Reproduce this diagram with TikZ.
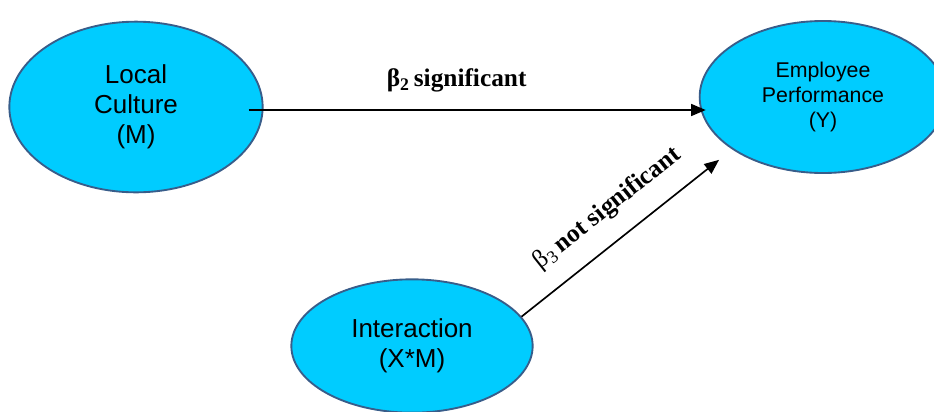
\documentclass[tikz,border=0pt]{standalone}
\usepackage{fontspec}
\setmainfont{Liberation Serif}
\setsansfont{Liberation Sans}
\usetikzlibrary{arrows.meta,shapes.geometric,positioning}
\definecolor{varFill}{HTML}{00CCFF}
\definecolor{varLine}{HTML}{385D8A}
\tikzset{construct/.style={ellipse, draw=varLine, fill=varFill, line width=1.4pt, align=center, inner sep=0pt}}
\tikzset{beta label/.style={font=\bfseries\fontsize{19}{22}\selectfont, inner sep=0pt}}

\begin{document}
\begin{tikzpicture}[->,>={Triangle[length=11pt,width=9pt]},x=0.75pt,y=-0.75pt,line width=1.25pt]
\useasboundingbox (0,0) rectangle (934,411);
\node[construct, minimum width=190pt, minimum height=128pt, font=\sffamily\fontsize{19.5}{22.5}\selectfont] at (136,107) (lc) {Local\\Culture\\(M)};
\node[construct, minimum width=185pt, minimum height=114pt, font=\sffamily\fontsize{16}{18.5}\selectfont] at (823,97) (ep) {Employee\\Performance\\(Y)};
\node[construct, minimum width=181pt, minimum height=100pt, font=\sffamily\fontsize{19.5}{22.5}\selectfont] at (412,346) (ix) {Interaction\\(X*M)};
% paths
\path ([shift={(-15,3)}]lc.east) edge node[beta label, pos=0.455, above=13pt] {β\textsubscript{2}\,significant} ([shift={(7,13)}]ep.west);
\path (ix.15) edge[shorten >=12.5pt] node[beta label, sloped, above=14pt] {{\mdseries β\textsubscript{3}}\,not significant} (ep.210);
\end{tikzpicture}
\end{document}
